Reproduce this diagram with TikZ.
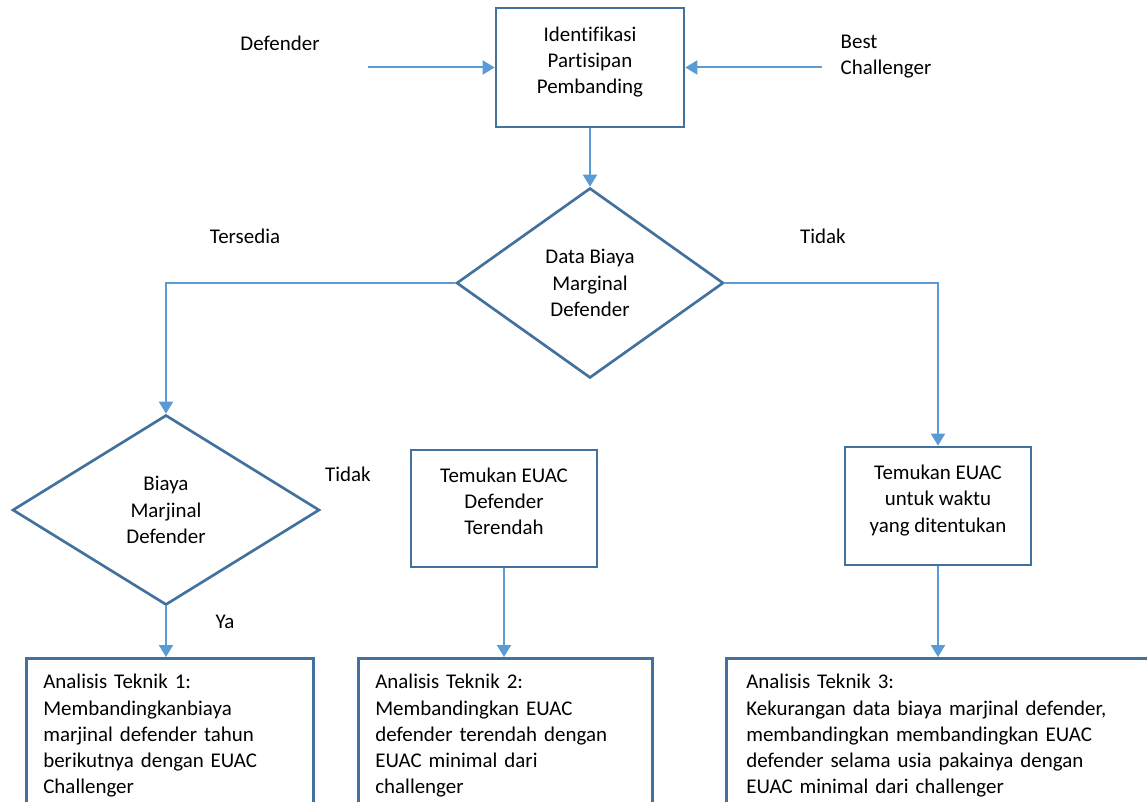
\documentclass[tikz,border=0pt]{standalone}
\usepackage{fontspec}
\setmainfont{Carlito}[Ligatures=NoCommon]
\usetikzlibrary{arrows.meta,shapes.geometric}
\definecolor{boxblue}{HTML}{41719C}
\definecolor{lineblue}{HTML}{5B9BD5}
\tikzset{
    line/.style={
        draw=lineblue,
        line width=1.5pt
    },
    arrow/.style={
        line,
        -{Triangle[length=9pt, width=10.5pt]}
    },
    box/.style={
        draw=boxblue,
        line width=2pt,
        align=center
    },
    decision/.style={
        diamond,
        draw=boxblue,
        line width=2pt,
        align=center,
        inner sep=0pt
    },
    result/.style={
        draw=boxblue,
        line width=2pt,
        align=left,
        anchor=north west,
        inner xsep=12.75pt,
        inner ysep=12pt
    }
}
\newcommand{\padbelow}{\rule[-11pt]{0pt}{11pt}}

\begin{document}
\begin{tikzpicture}[x=0.75pt, y=-0.75pt, font=\fontsize{15.7pt}{19.6pt}\selectfont]
    \useasboundingbox (0, 0) rectangle (1147, 802);
    \clip (0, 0) rectangle (1147, 802);

    \node [box, minimum width=141pt, minimum height=89.25pt] (ident) at (590, 67.5)
        {Identifikasi\\Partisipan\\Pembanding\padbelow};
    \node (deflabel) at (280, 43) {Defender};
    \node [anchor=west, align=left] (bestlabel) at (836, 57) {Best\\Challenger};
    \coordinate (defstart) at (368, 67.5);
    \coordinate (beststart) at (822, 67.5);

    \node [decision, minimum width=200.25pt, minimum height=142.5pt] (dmarg) at (590, 283)
        {Data Biaya\\Marginal\\Defender};
    \node (availlabel) at (245, 236) {Tersedia};
    \node (nolabel) at (823, 236) {Tidak};

    \node [decision, minimum width=230.25pt, minimum height=142.5pt] (dbiaya) at (166, 510)
        {Biaya\\Marjinal\\Defender};
    \node (nolabelb) at (348, 474) {Tidak};
    \node (yeslabel) at (225, 622) {Ya};

    \node [box, minimum width=139.5pt, minimum height=87.75pt] (findlow) at (504, 508.5)
        {Temukan EUAC\\Defender\\Terendah\padbelow};
    \node [box, minimum width=139.5pt, minimum height=88.5pt] (findtime) at (938, 506)
        {Temukan EUAC\\untuk waktu\\yang ditentukan\padbelow};

    % bottom row, cut by the page edge
    \node [result, text width=189.75pt] (tek1) at (25, 657)
        {Analisis Teknik 1:\\Membandingkanbiaya\\marjinal defender tahun\\berikutnya dengan EUAC\\Challenger\padbelow};
    \node [result, text width=195pt] (tek2) at (357, 657)
        {Analisis Teknik 2:\\Membandingkan EUAC\\defender terendah dengan\\EUAC minimal dari\\challenger\padbelow};
    \node [result, text width=330pt, inner xsep=15pt] (tek3) at (725, 657)
        {Analisis Teknik 3:\\Kekurangan data biaya marjinal defender,\\membandingkan membandingkan EUAC\\defender selama usia pakainya dengan\\EUAC minimal dari challenger\padbelow};

    \draw [arrow] (defstart) -- (ident.west);
    \draw [arrow] (beststart) -- (ident.east);
    \draw [arrow] (ident.south) -- (dmarg.north);
    \draw [arrow] (dmarg.west) -| (dbiaya.north);
    \draw [arrow] (dmarg.east) -| (findtime.north);
    \draw [arrow] (dbiaya.south) -- (dbiaya.south |- tek1.north);
    \draw [arrow] (findlow.south) -- (findlow.south |- tek2.north);
    \draw [arrow] (findtime.south) -- (findtime.south |- tek3.north);
\end{tikzpicture}
\end{document}
